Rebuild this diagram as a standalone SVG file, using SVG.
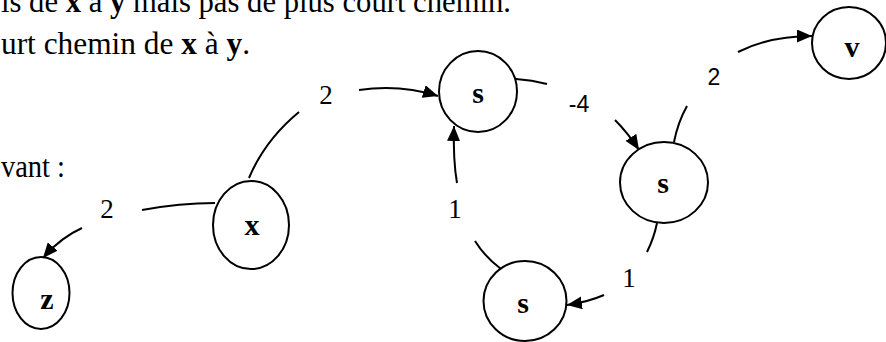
<svg xmlns="http://www.w3.org/2000/svg" width="886" height="342" viewBox="0 0 886 342">
<style>
.body{font-family:"Liberation Serif","Times New Roman",serif;font-size:31px;fill:#000}
.b{font-weight:bold}
.node ellipse{fill:#fff;stroke:#000;stroke-width:2}
.node text{font-family:"Liberation Serif","Times New Roman",serif;font-size:30px;font-weight:bold;text-anchor:middle;fill:#000}
.edge{fill:none;stroke:#000;stroke-width:2}
.lbl{font-family:"Liberation Serif","Times New Roman",serif;font-size:27px;text-anchor:middle;fill:#000}
.lbls{font-family:"Liberation Sans",Arial,sans-serif;font-size:23px;text-anchor:middle;fill:#000}
</style>
<defs>
<marker id="arr" markerUnits="userSpaceOnUse" markerWidth="15" markerHeight="13" refX="15" refY="6.5" orient="auto">
<path d="M0,0 L15,6.5 L0,13 z" fill="#000"/>
</marker>
</defs>
<rect width="886" height="342" fill="#fff"/>
<g id="text">
<text class="body" x="1" y="12" textLength="510" lengthAdjust="spacingAndGlyphs">is de <tspan class="b">x</tspan> à <tspan class="b">y</tspan> mais pas de plus court chemin.</text>
<text class="body" x="1" y="54" textLength="249" lengthAdjust="spacingAndGlyphs">urt chemin de <tspan class="b">x</tspan> à <tspan class="b">y</tspan>.</text>
<text class="body" x="1" y="177" textLength="64" lengthAdjust="spacingAndGlyphs">vant :</text>
</g>
<g id="connectors">
<path class="edge" d="M215,203 Q180,203 142,210"/>
<path class="edge" d="M82,228 Q60,238 43,258" marker-end="url(#arr)"/>
<path class="edge" d="M249,178 Q265,140 299,112"/>
<path class="edge" d="M359,90 Q400,84 438,96" marker-end="url(#arr)"/>
<path class="edge" d="M516,79 Q532,80 547,84"/>
<path class="edge" d="M615,120 Q628,133 639,150" marker-end="url(#arr)"/>
<path class="edge" d="M674,142 Q678,122 687,106"/>
<path class="edge" d="M738,52 Q770,36 812,36" marker-end="url(#arr)"/>
<path class="edge" d="M657,223 Q654,238 647,252"/>
<path class="edge" d="M604,295 Q588,302 567,305" marker-end="url(#arr)"/>
<path class="edge" d="M501,269 Q485,257 475,241"/>
<path class="edge" d="M457,183 Q453,160 454,126" marker-end="url(#arr)"/>
<text class="lbl" x="107" y="218">2</text>
<text class="lbl" x="326" y="104">2</text>
<text class="lbls" x="579" y="112">-4</text>
<text class="lbls" x="714" y="85">2</text>
<text class="lbl" x="629" y="287">1</text>
<text class="lbl" x="455" y="218">1</text>
</g>
<g id="node-z" class="node"><ellipse cx="41" cy="293" rx="28.5" ry="36"/><text x="47" y="309">z</text></g>
<g id="node-x" class="node"><ellipse cx="251" cy="225" rx="38" ry="44"/><text x="252" y="235">x</text></g>
<g id="node-s1" class="node"><ellipse cx="478" cy="91.5" rx="39" ry="40.5"/><text x="478" y="103">s</text></g>
<g id="node-s2" class="node"><ellipse cx="664" cy="182.5" rx="44" ry="40.5"/><text x="663" y="193">s</text></g>
<g id="node-s3" class="node"><ellipse cx="525" cy="301" rx="41.5" ry="40"/><text x="523" y="313">s</text></g>
<g id="node-v" class="node"><ellipse cx="849" cy="43" rx="37" ry="36"/><text x="852" y="57">v</text></g>
</svg>
